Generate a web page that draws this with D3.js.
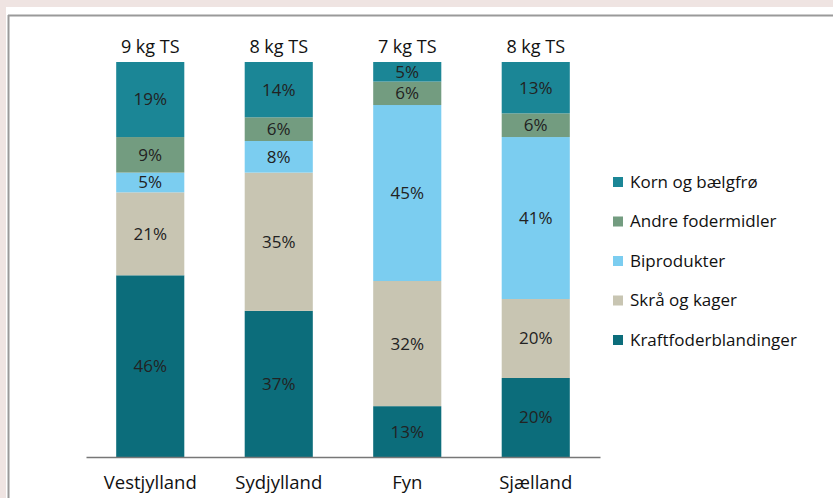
<!DOCTYPE html>
<html>
<head>
<meta charset="utf-8">
<script src="https://cdn.jsdelivr.net/npm/d3@7"></script>
<style>
  body { margin: 0; background: #efe4e2; }
  #chart { position: absolute; left: 0; top: 0; }
</style>
</head>
<body>
<div id="chart"></div>
<script>
// regioner og serier (nederst -> øverst)
var regions = ["Vestjylland", "Sydjylland", "Fyn", "Sjælland"];
var totals = ["9 kg TS", "8 kg TS", "7 kg TS", "8 kg TS"];
var series = ["Kraftfoderblandinger", "Skrå og kager", "Biprodukter", "Andre fodermidler", "Korn og bælgfrø"];
var kraftfoder = [46, 37, 13, 20];
var skraa = [21, 35, 32, 20];
var biprodukter = [5, 8, 45, 41];
var andre = [9, 6, 6, 6];
var korn = [19, 14, 5, 13];
var colors = ["#0c6d7b", "#c8c5b2", "#7bcdf0", "#739c80", "#1b8696"];

var width = 833, height = 498;
var margin = {top: 62, left: 86, right: 233, bottom: 41};
var font = "'Open Sans', Lato, sans-serif";

var allData = regions.map(function(r, i) {
  return {region: r, total: totals[i],
    "Kraftfoderblandinger": kraftfoder[i], "Skrå og kager": skraa[i],
    "Biprodukter": biprodukter[i], "Andre fodermidler": andre[i],
    "Korn og bælgfrø": korn[i]};
});

var svg = d3.select("#chart").append("svg")
  .attr("width", width).attr("height", height);

// hvid ramme
svg.append("rect").attr("x", 6).attr("y", 7).attr("width", width).attr("height", height)
  .attr("fill", "#fff");
svg.append("line").attr("x1", 8.5).attr("x2", 8.5).attr("y1", 15).attr("y2", height)
  .attr("stroke", "#9a9a9a").attr("stroke-width", 2);
svg.append("line").attr("x1", 8).attr("x2", width).attr("y1", 15.5).attr("y2", 15.5)
  .attr("stroke", "#9a9a9a").attr("stroke-width", 2);

var xScale = d3.scaleBand()
  .domain(regions)
  .range([margin.left, width - margin.right])
  .paddingInner(0.47).paddingOuter(0.235);

var yScale = d3.scaleLinear()
  .domain([0, 1])
  .range([height - margin.bottom, margin.top]);

var stack = d3.stack().keys(series).offset(d3.stackOffsetExpand);
var stacked = stack(allData);

var layers = svg.append("g").selectAll("g")
  .data(stacked)
  .enter().append("g")
  .attr("fill", function(d, i) { return colors[i]; });

layers.selectAll("rect")
  .data(function(d) { return d; })
  .enter().append("rect")
  .attr("x", function(d) { return xScale(d.data.region); })
  .attr("width", xScale.bandwidth())
  .attr("y", function(d) { return yScale(d[1]); })
  .attr("height", function(d) { return yScale(d[0]) - yScale(d[1]); });

// procent-etiketter
layers.each(function(layer) {
  d3.select(this).selectAll("text")
    .data(layer)
    .enter().append("text")
    .attr("x", function(d) { return xScale(d.data.region) + xScale.bandwidth() / 2; })
    .attr("y", function(d) { return (yScale(d[0]) + yScale(d[1])) / 2; })
    .attr("dy", "0.35em")
    .attr("text-anchor", "middle")
    .attr("font-family", font)
    .attr("font-size", "17px")
    .attr("fill", "#222")
    .text(function(d) { return d.data[layer.key] + "%"; });
});

// x-akse
var xAxis = d3.axisBottom(xScale).tickSize(0).tickPadding(19);
var gx = svg.append("g")
  .attr("transform", "translate(0," + (height - margin.bottom) + ")")
  .call(xAxis);
gx.select(".domain").attr("stroke", "#777").attr("stroke-width", 1.5);
gx.selectAll("text")
  .attr("font-family", font)
  .attr("font-size", "18.5px")
  .attr("fill", "#111");

// totaler over søjlerne
svg.append("g").selectAll("text")
  .data(allData)
  .enter().append("text")
  .attr("x", function(d) { return xScale(d.region) + xScale.bandwidth() / 2; })
  .attr("y", margin.top - 9)
  .attr("text-anchor", "middle")
  .attr("font-family", font)
  .attr("font-size", "18px")
  .attr("fill", "#111")
  .text(function(d) { return d.total; });

// legende (øverst: Korn)
var legendKeys = series.slice().reverse();
var legendColors = colors.slice().reverse();
var legend = svg.append("g").selectAll("g")
  .data(legendKeys)
  .enter().append("g")
  .attr("transform", function(d, i) { return "translate(613," + (182 + i * 39.5) + ")"; });
legend.append("rect")
  .attr("x", 0).attr("y", -5).attr("width", 10).attr("height", 10)
  .attr("fill", function(d, i) { return legendColors[i]; });
legend.append("text")
  .attr("x", 17).attr("dy", "0.35em")
  .attr("font-family", font)
  .attr("font-size", "17px")
  .attr("fill", "#111")
  .text(function(d) { return d; });
</script>
</body>
</html>
